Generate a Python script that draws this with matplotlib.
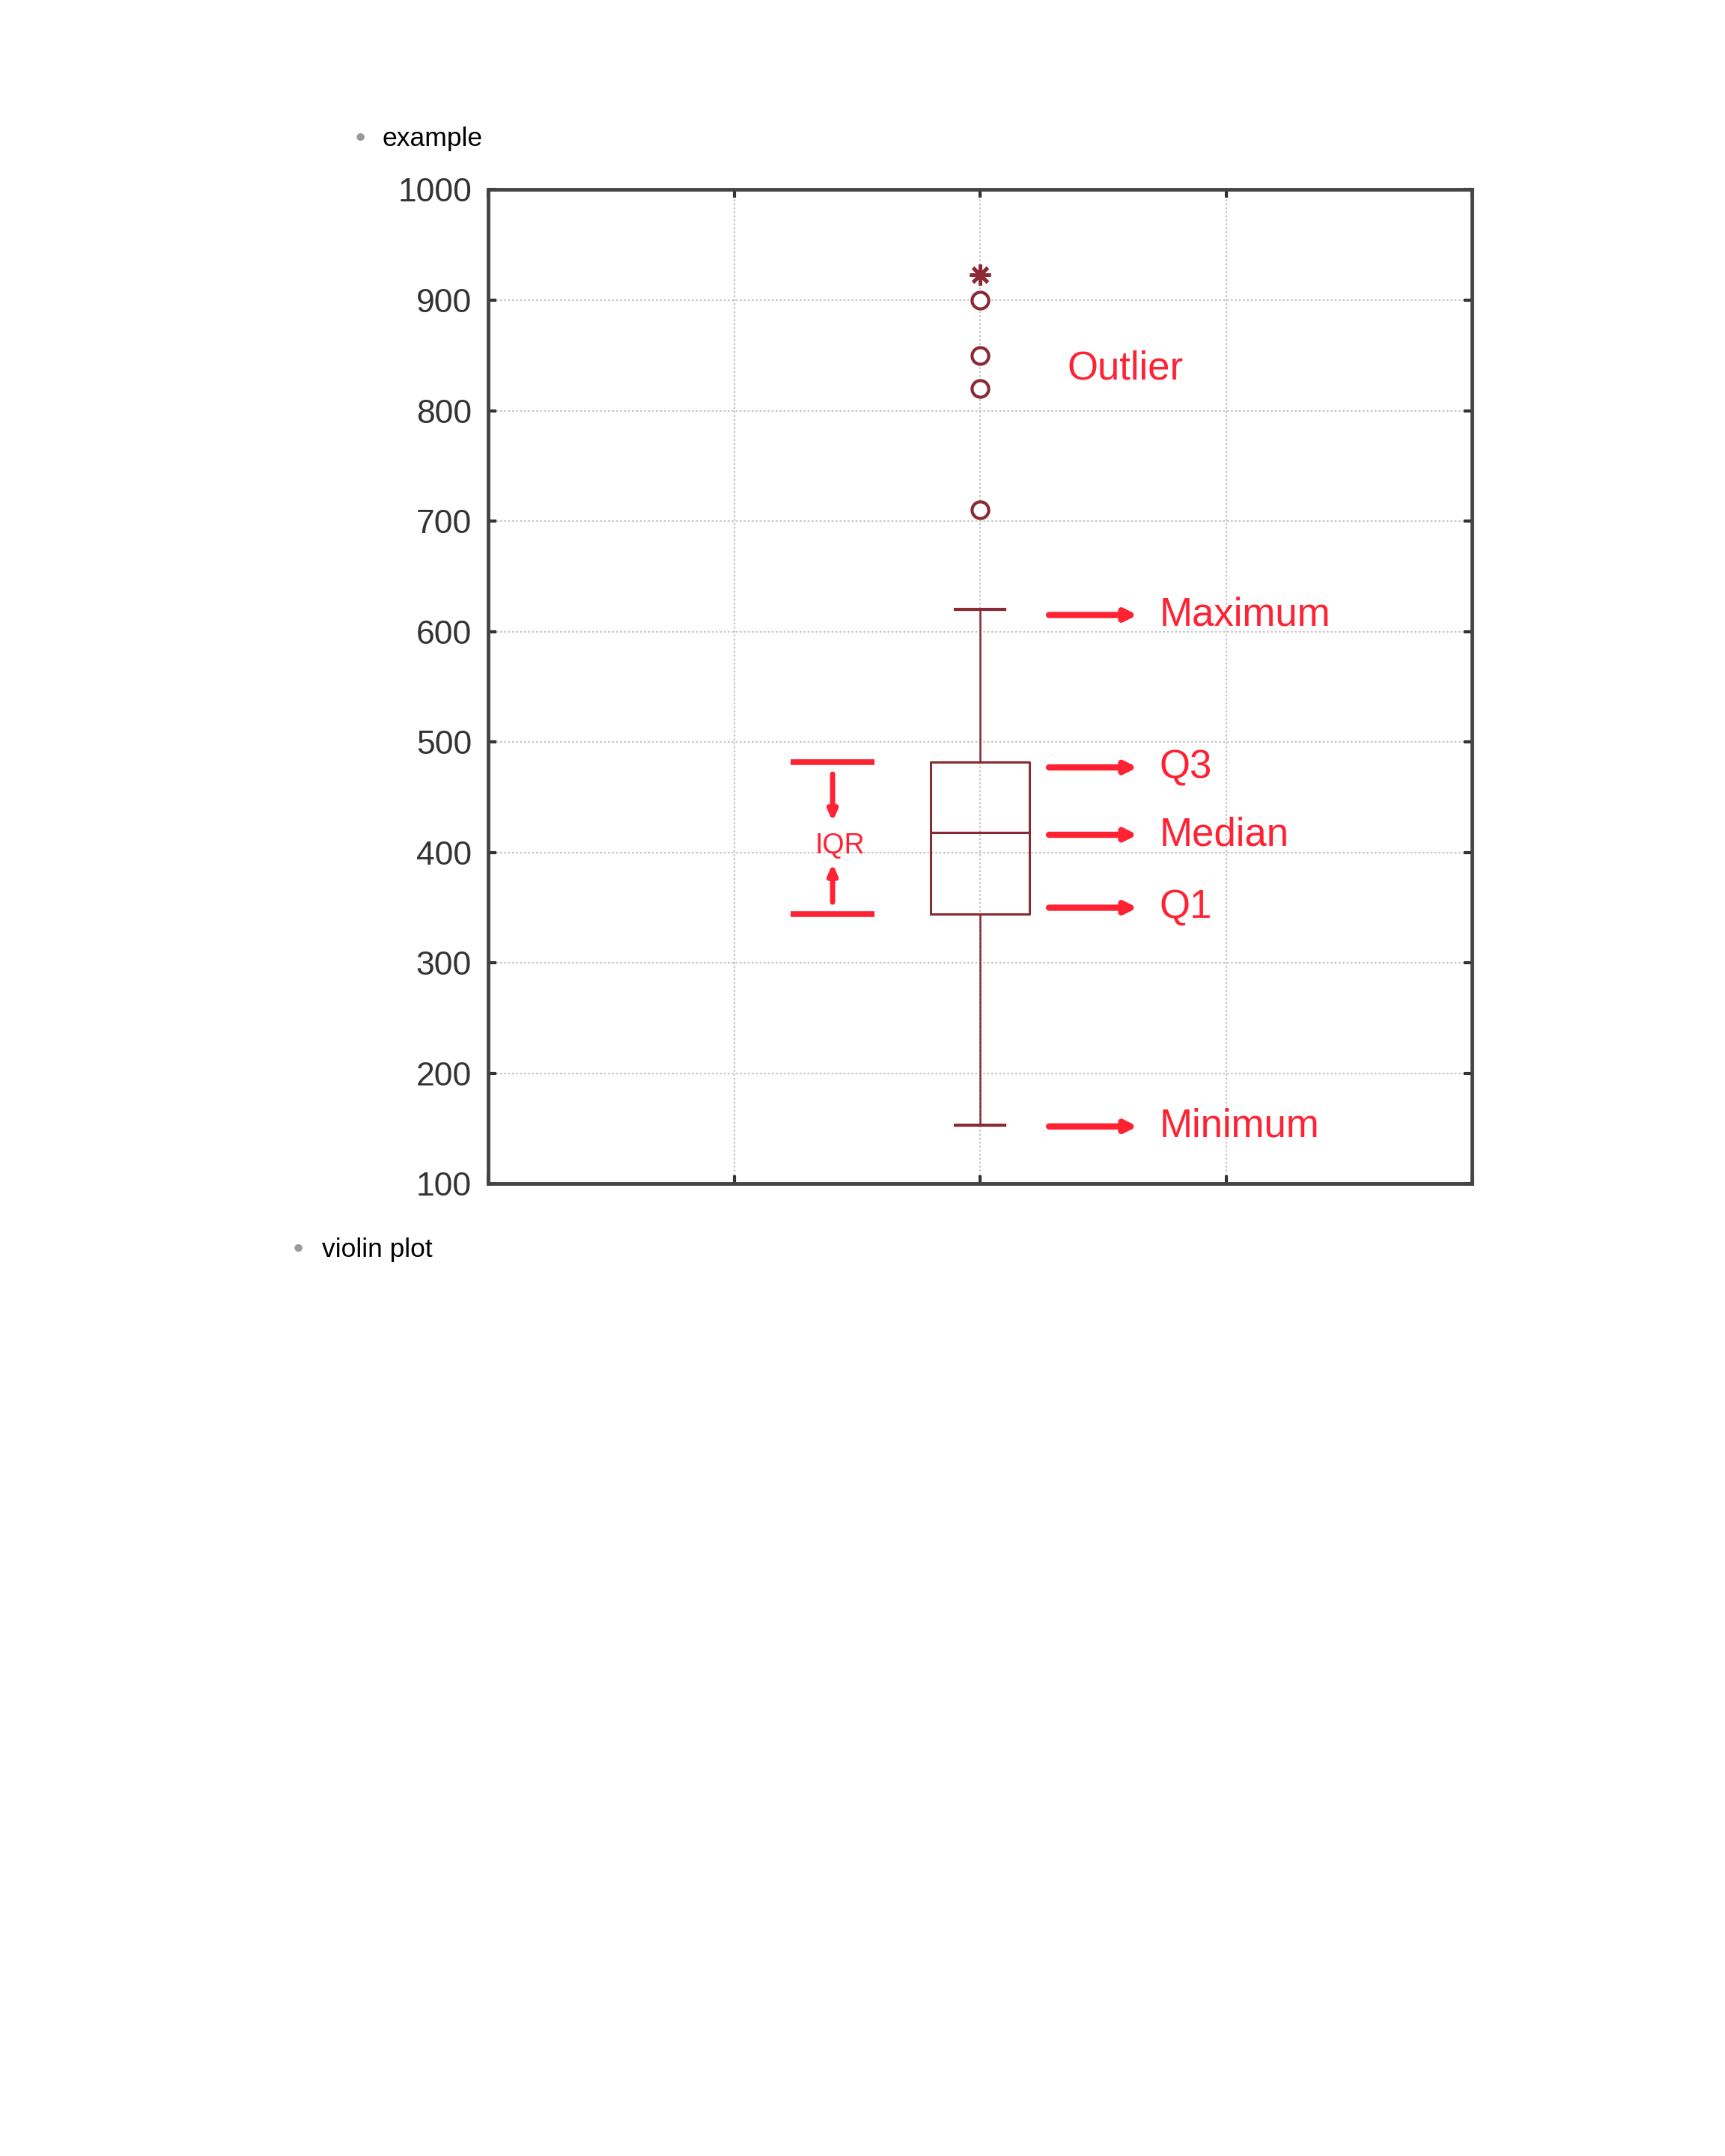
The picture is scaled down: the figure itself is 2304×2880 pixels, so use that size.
import numpy as np
import matplotlib
matplotlib.use("Agg")
import matplotlib.pyplot as plt
from matplotlib import font_manager

# box statistics
q1 = 344
mediana = 418
q3 = 482
minimo = 153
maximo = 620
outliers = [900, 850, 820, 710]
outlier_extremo = [923]

# labels on the right side and their heights
rotulos = ["Maximum", "Q3", "Median", "Q1", "Minimum"]
rotulos_y = [615, 477, 416, 350, 152]

yticks = [100, 200, 300, 400, 500, 600, 700, 800, 900, 1000]

nomes = {f.name for f in font_manager.fontManager.ttflist}
fonte_ticks = "Liberation Sans Narrow" if "Liberation Sans Narrow" in nomes else "Liberation Sans"

vermelho = "#ff2233"
vinho = "#8a2a35"

fig = plt.figure(figsize=(23.04, 28.8), dpi=100)
ax = fig.add_axes([0.2831, 0.4509, 0.5702, 0.4611])

stats = [dict(med=mediana, q1=q1, q3=q3, whislo=minimo, whishi=maximo, fliers=outliers)]
ax.bxp(stats, positions=[2], widths=0.4, capwidths=0.2, showfliers=True,
       boxprops=dict(color=vinho, linewidth=2.2),
       medianprops=dict(color=vinho, linewidth=2.2),
       whiskerprops=dict(color=vinho, linewidth=1.8),
       capprops=dict(color=vinho, linewidth=3),
       flierprops=dict(marker="o", markersize=16, markerfacecolor="white",
                       markeredgecolor=vinho, markeredgewidth=3))
ax.plot([2] * len(outlier_extremo), outlier_extremo, linestyle="none",
        marker=(8, 2, 0), markersize=20, color=vinho, markeredgewidth=3.5)

ax.set_xlim(0, 4)
ax.set_ylim(100, 1000)
ax.set_xticks([0, 1, 2, 3, 4])
ax.set_xticklabels([])
ax.set_yticks(yticks)
ax.set_yticklabels([str(v) for v in yticks], fontsize=32, color="#333333",
                   family=fonte_ticks)
ax.tick_params(direction="in", length=8, width=3, color="#333333",
               top=True, right=True, pad=16)
ax.grid(True, color="#c8c8c8", linestyle=(0, (1.2, 1.2)), linewidth=1.6)
ax.set_axisbelow(True)
for lado in ax.spines.values():
    lado.set_color("#444444")
    lado.set_linewidth(3.5)

# arrows and labels
for texto, yv in zip(rotulos, rotulos_y):
    ax.annotate("", xy=(2.64, yv), xytext=(2.28, yv),
                arrowprops=dict(arrowstyle="-|>,head_length=0.9,head_width=0.45",
                                color=vermelho, lw=6, shrinkA=0, shrinkB=0))
    ax.text(2.73, yv, texto, color=vermelho, fontsize=38, va="center",
            ha="left", family="Liberation Sans")

ax.text(2.355, 838, "Outlier", color=vermelho, fontsize=38, va="center",
        ha="left", family="Liberation Sans")

# IQR marker
ax.plot([1.23, 1.57], [q3, q3], color=vermelho, lw=5.5, solid_capstyle="butt")
ax.plot([1.23, 1.57], [q1, q1], color=vermelho, lw=5.5, solid_capstyle="butt")
ax.annotate("", xy=(1.4, 428), xytext=(1.4, 471),
            arrowprops=dict(arrowstyle="-|>,head_length=0.8,head_width=0.35",
                            color=vermelho, lw=5, shrinkA=0, shrinkB=0))
ax.annotate("", xy=(1.4, 390), xytext=(1.4, 355),
            arrowprops=dict(arrowstyle="-|>,head_length=0.8,head_width=0.35",
                            color=vermelho, lw=5, shrinkA=0, shrinkB=0))
ax.text(1.43, 406, "IQR", color=vermelho, fontsize=27, va="center",
        ha="center", family=fonte_ticks)

# bullets
fig.text(262 / 1254, 1 - 101 / 1568, "\u2022", color="#999999", fontsize=26,
         va="center", ha="center")
fig.text(278 / 1254, 1 - 101 / 1568, "example", color="black", fontsize=25.5,
         va="center", ha="left", family="Liberation Sans")
fig.text(217 / 1254, 1 - 909 / 1568, "\u2022", color="#999999", fontsize=26,
         va="center", ha="center")
fig.text(234 / 1254, 1 - 909 / 1568, "violin plot", color="black", fontsize=25.5,
         va="center", ha="left", family="Liberation Sans")

fig.savefig("out.png", dpi=100)
